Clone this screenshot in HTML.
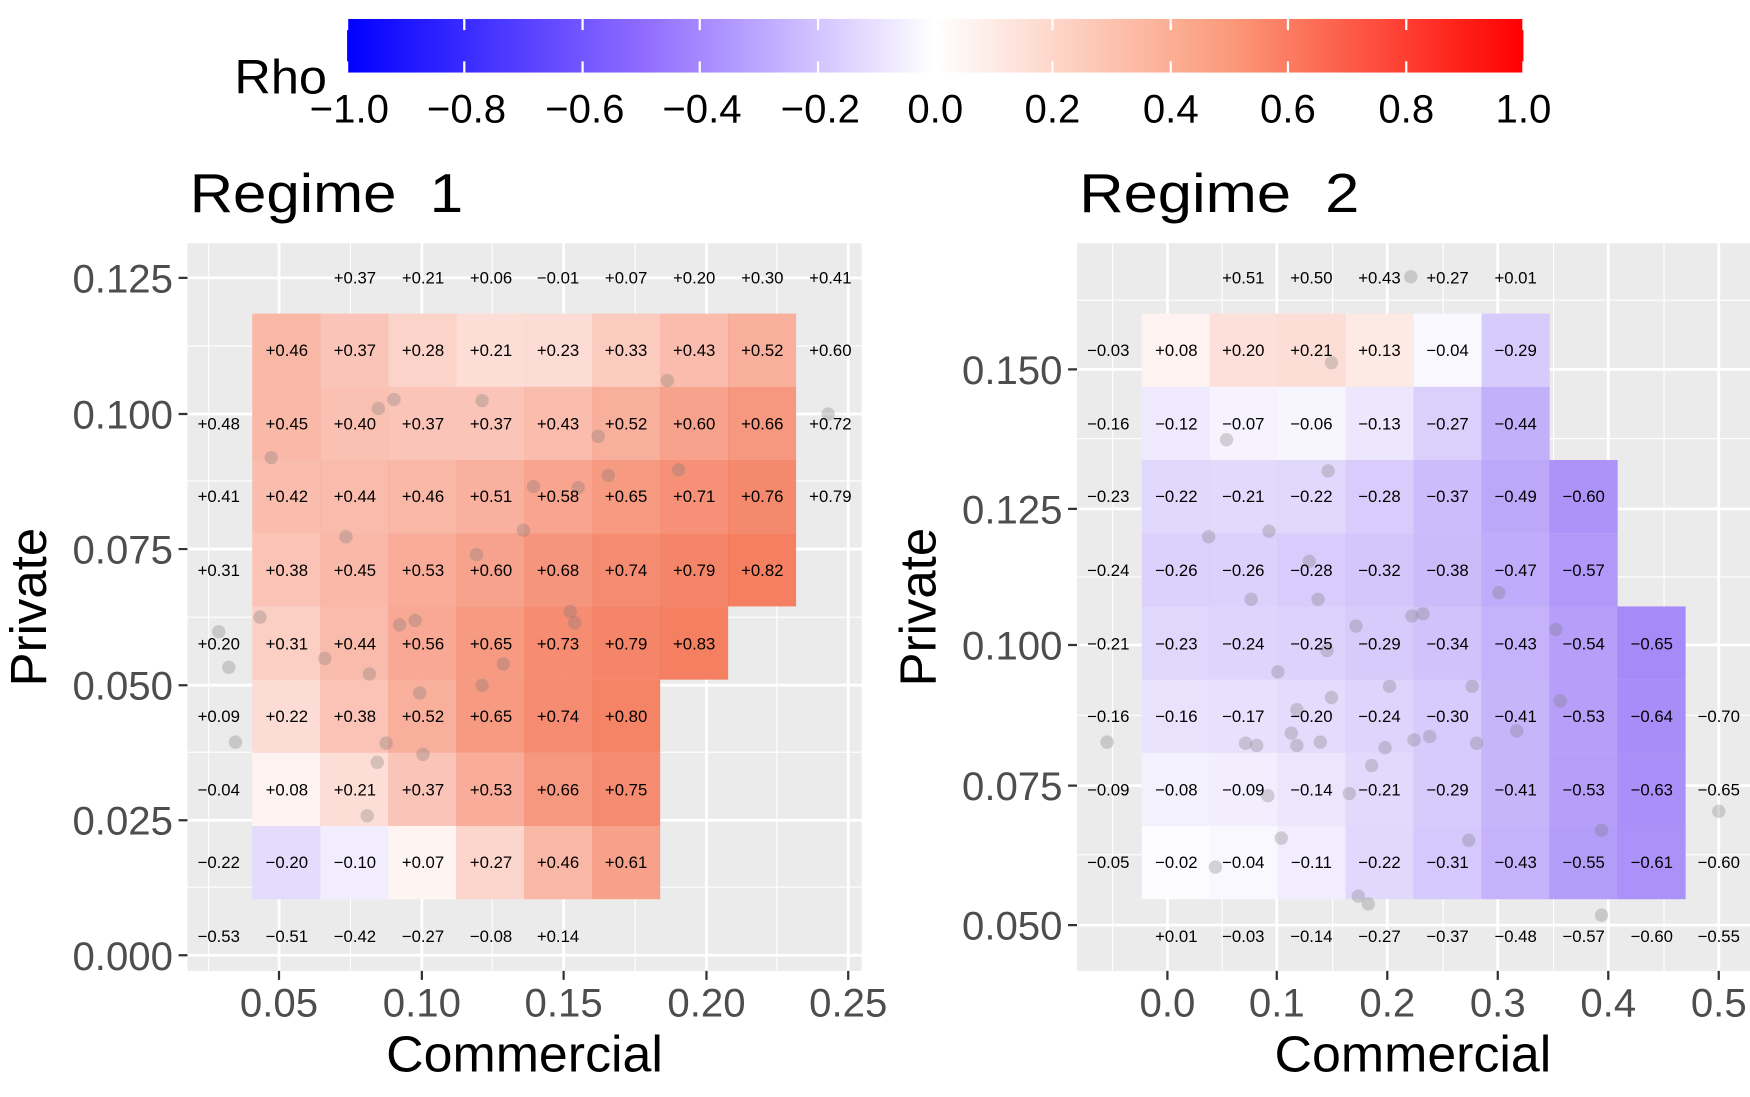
<!DOCTYPE html>
<html><head><meta charset="utf-8"><style>
html,body{margin:0;padding:0;background:#fff;}
svg{display:block;}
text{font-family:"Liberation Sans",Arial,sans-serif;}
.l{font-size:15px;fill:#000;text-anchor:middle;}
.t{font-size:36px;fill:#4d4d4d;}
</style></head><body>
<svg width="1750" height="1097" viewBox="0 0 1568 983" preserveAspectRatio="none" xmlns="http://www.w3.org/2000/svg">
<defs>
<linearGradient id="cb" x1="0" x2="1" y1="0" y2="0">
<stop offset="0" stop-color="#0000ff"/>
<stop offset="0.25" stop-color="#8f6bff"/>
<stop offset="0.5" stop-color="#ffffff"/>
<stop offset="0.75" stop-color="#fb9a7a"/>
<stop offset="1" stop-color="#ff0000"/>
</linearGradient>
</defs>
<rect x="311" y="17" width="1054" height="48" fill="url(#cb)"/>
<g stroke="#fff" stroke-width="2">
<path d="M311 17v10M416 17v10M522 17v10M627 17v10M733 17v10M838 17v10M943 17v10M1049 17v10M1154 17v10M1260 17v10M1365 17v10"/>
<path d="M311 55v10M416 55v10M522 55v10M627 55v10M733 55v10M838 55v10M943 55v10M1049 55v10M1154 55v10M1260 55v10M1365 55v10"/>
</g>
<text x="210" y="84" font-size="43" textLength="83" lengthAdjust="spacingAndGlyphs">Rho</text>
<g font-size="36" text-anchor="middle" fill="#000">
<text x="313" y="110">−1.0</text><text x="418" y="110">−0.8</text><text x="524" y="110">−0.6</text><text x="629" y="110">−0.4</text><text x="735" y="110">−0.2</text><text x="838" y="110">0.0</text><text x="943" y="110">0.2</text><text x="1049" y="110">0.4</text><text x="1154" y="110">0.6</text><text x="1260" y="110">0.8</text><text x="1365" y="110">1.0</text>
</g>

<text x="170" y="190" font-size="49" textLength="245" lengthAdjust="spacingAndGlyphs" xml:space="preserve">Regime  1</text>
<rect x="168" y="218" width="604" height="652" fill="#ebebeb"/>
<g stroke="#fff" stroke-width="1">
<path d="M187 218v652M314 218v652M441 218v652M569 218v652M696 218v652"/>
<path d="M168 310h604M168 431h604M168 553h604M168 674h604M168 795h604"/>
</g>
<g stroke="#fff" stroke-width="2.5">
<path d="M250 218v652M378 218v652M505 218v652M633 218v652M760 218v652"/>
<path d="M168 249h604M168 371h604M168 492h604M168 614h604M168 735h604M168 856h604"/>
</g>
<g fill="#fff">
<rect x="226" y="281" width="487.2" height="262.4"/>
<rect x="226" y="543.4" width="426.3" height="65.6"/>
<rect x="226" y="609" width="365.4" height="196.8"/>
</g>
<g fill="#ee3000">
<rect x="226" y="281" width="61" height="65.6" fill-opacity=".35"/><rect x="286.9" y="281" width="61" height="65.6" fill-opacity=".28"/><rect x="347.8" y="281" width="61" height="65.6" fill-opacity=".21"/><rect x="408.7" y="281" width="61" height="65.6" fill-opacity=".16"/><rect x="469.6" y="281" width="61" height="65.6" fill-opacity=".17"/><rect x="530.5" y="281" width="61" height="65.6" fill-opacity=".25"/><rect x="591.4" y="281" width="61" height="65.6" fill-opacity=".32"/><rect x="652.3" y="281" width="61" height="65.6" fill-opacity=".39"/>
<rect x="226" y="346.6" width="61" height="65.6" fill-opacity=".34"/><rect x="286.9" y="346.6" width="61" height="65.6" fill-opacity=".30"/><rect x="347.8" y="346.6" width="61" height="65.6" fill-opacity=".28"/><rect x="408.7" y="346.6" width="61" height="65.6" fill-opacity=".28"/><rect x="469.6" y="346.6" width="61" height="65.6" fill-opacity=".32"/><rect x="530.5" y="346.6" width="61" height="65.6" fill-opacity=".39"/><rect x="591.4" y="346.6" width="61" height="65.6" fill-opacity=".45"/><rect x="652.3" y="346.6" width="61" height="65.6" fill-opacity=".50"/>
<rect x="226" y="412.2" width="61" height="65.6" fill-opacity=".32"/><rect x="286.9" y="412.2" width="61" height="65.6" fill-opacity=".33"/><rect x="347.8" y="412.2" width="61" height="65.6" fill-opacity=".35"/><rect x="408.7" y="412.2" width="61" height="65.6" fill-opacity=".38"/><rect x="469.6" y="412.2" width="61" height="65.6" fill-opacity=".44"/><rect x="530.5" y="412.2" width="61" height="65.6" fill-opacity=".49"/><rect x="591.4" y="412.2" width="61" height="65.6" fill-opacity=".53"/><rect x="652.3" y="412.2" width="61" height="65.6" fill-opacity=".57"/>
<rect x="226" y="477.8" width="61" height="65.6" fill-opacity=".29"/><rect x="286.9" y="477.8" width="61" height="65.6" fill-opacity=".34"/><rect x="347.8" y="477.8" width="61" height="65.6" fill-opacity=".40"/><rect x="408.7" y="477.8" width="61" height="65.6" fill-opacity=".45"/><rect x="469.6" y="477.8" width="61" height="65.6" fill-opacity=".51"/><rect x="530.5" y="477.8" width="61" height="65.6" fill-opacity=".56"/><rect x="591.4" y="477.8" width="61" height="65.6" fill-opacity=".59"/><rect x="652.3" y="477.8" width="61" height="65.6" fill-opacity=".62"/>
<rect x="226" y="543.4" width="61" height="65.6" fill-opacity=".23"/><rect x="286.9" y="543.4" width="61" height="65.6" fill-opacity=".33"/><rect x="347.8" y="543.4" width="61" height="65.6" fill-opacity=".42"/><rect x="408.7" y="543.4" width="61" height="65.6" fill-opacity=".49"/><rect x="469.6" y="543.4" width="61" height="65.6" fill-opacity=".55"/><rect x="530.5" y="543.4" width="61" height="65.6" fill-opacity=".59"/><rect x="591.4" y="543.4" width="61" height="65.6" fill-opacity=".62"/>
<rect x="226" y="609" width="61" height="65.6" fill-opacity=".17"/><rect x="286.9" y="609" width="61" height="65.6" fill-opacity=".29"/><rect x="347.8" y="609" width="61" height="65.6" fill-opacity=".39"/><rect x="408.7" y="609" width="61" height="65.6" fill-opacity=".49"/><rect x="469.6" y="609" width="61" height="65.6" fill-opacity=".56"/><rect x="530.5" y="609" width="61" height="65.6" fill-opacity=".60"/>
<rect x="226" y="674.6" width="61" height="65.6" fill-opacity=".06"/><rect x="286.9" y="674.6" width="61" height="65.6" fill-opacity=".16"/><rect x="347.8" y="674.6" width="61" height="65.6" fill-opacity=".28"/><rect x="408.7" y="674.6" width="61" height="65.6" fill-opacity=".40"/><rect x="469.6" y="674.6" width="61" height="65.6" fill-opacity=".50"/><rect x="530.5" y="674.6" width="61" height="65.6" fill-opacity=".56"/>
<rect x="347.8" y="740.2" width="61" height="65.6" fill-opacity=".05"/><rect x="408.7" y="740.2" width="61" height="65.6" fill-opacity=".20"/><rect x="469.6" y="740.2" width="61" height="65.6" fill-opacity=".35"/><rect x="530.5" y="740.2" width="61" height="65.6" fill-opacity=".46"/>
</g>
<g fill="#4a10f0">
<rect x="226" y="740.2" width="61" height="65.6" fill-opacity=".15"/><rect x="286.9" y="740.2" width="61" height="65.6" fill-opacity=".075"/>
</g>
<g fill="#777" fill-opacity=".3">
<circle cx="243" cy="410" r="6"/><circle cx="339" cy="366" r="6"/><circle cx="353" cy="358" r="6"/><circle cx="432" cy="359" r="6"/><circle cx="598" cy="341" r="6"/><circle cx="536" cy="391" r="6"/><circle cx="545" cy="426" r="6"/><circle cx="608" cy="421" r="6"/><circle cx="478" cy="436" r="6"/><circle cx="518" cy="437" r="6"/><circle cx="310" cy="481" r="6"/><circle cx="469" cy="475" r="6"/><circle cx="427" cy="497" r="6"/><circle cx="233" cy="553" r="6"/><circle cx="196" cy="566" r="6"/><circle cx="205" cy="598" r="6"/><circle cx="291" cy="590" r="6"/><circle cx="358" cy="560" r="6"/><circle cx="372" cy="556" r="6"/><circle cx="331" cy="604" r="6"/><circle cx="432" cy="614" r="6"/><circle cx="376" cy="621" r="6"/><circle cx="511" cy="548" r="6"/><circle cx="515" cy="558" r="6"/><circle cx="451" cy="595" r="6"/><circle cx="346" cy="666" r="6"/><circle cx="211" cy="665" r="6"/><circle cx="338" cy="683" r="6"/><circle cx="379" cy="676" r="6"/><circle cx="329" cy="731" r="6"/><circle cx="742" cy="371" r="6"/>
</g>
<g class="l">
<text x="318" y="254">+0.37</text><text x="379" y="254">+0.21</text><text x="440" y="254">+0.06</text><text x="500" y="254">−0.01</text><text x="561" y="254">+0.07</text><text x="622" y="254">+0.20</text><text x="683" y="254">+0.30</text><text x="744" y="254">+0.41</text>
<text x="257" y="319">+0.46</text><text x="318" y="319">+0.37</text><text x="379" y="319">+0.28</text><text x="440" y="319">+0.21</text><text x="500" y="319">+0.23</text><text x="561" y="319">+0.33</text><text x="622" y="319">+0.43</text><text x="683" y="319">+0.52</text><text x="744" y="319">+0.60</text>
<text x="196" y="385">+0.48</text><text x="257" y="385">+0.45</text><text x="318" y="385">+0.40</text><text x="379" y="385">+0.37</text><text x="440" y="385">+0.37</text><text x="500" y="385">+0.43</text><text x="561" y="385">+0.52</text><text x="622" y="385">+0.60</text><text x="683" y="385">+0.66</text><text x="744" y="385">+0.72</text>
<text x="196" y="450">+0.41</text><text x="257" y="450">+0.42</text><text x="318" y="450">+0.44</text><text x="379" y="450">+0.46</text><text x="440" y="450">+0.51</text><text x="500" y="450">+0.58</text><text x="561" y="450">+0.65</text><text x="622" y="450">+0.71</text><text x="683" y="450">+0.76</text><text x="744" y="450">+0.79</text>
<text x="196" y="516">+0.31</text><text x="257" y="516">+0.38</text><text x="318" y="516">+0.45</text><text x="379" y="516">+0.53</text><text x="440" y="516">+0.60</text><text x="500" y="516">+0.68</text><text x="561" y="516">+0.74</text><text x="622" y="516">+0.79</text><text x="683" y="516">+0.82</text>
<text x="196" y="582">+0.20</text><text x="257" y="582">+0.31</text><text x="318" y="582">+0.44</text><text x="379" y="582">+0.56</text><text x="440" y="582">+0.65</text><text x="500" y="582">+0.73</text><text x="561" y="582">+0.79</text><text x="622" y="582">+0.83</text>
<text x="196" y="647">+0.09</text><text x="257" y="647">+0.22</text><text x="318" y="647">+0.38</text><text x="379" y="647">+0.52</text><text x="440" y="647">+0.65</text><text x="500" y="647">+0.74</text><text x="561" y="647">+0.80</text>
<text x="196" y="713">−0.04</text><text x="257" y="713">+0.08</text><text x="318" y="713">+0.21</text><text x="379" y="713">+0.37</text><text x="440" y="713">+0.53</text><text x="500" y="713">+0.66</text><text x="561" y="713">+0.75</text>
<text x="196" y="778">−0.22</text><text x="257" y="778">−0.20</text><text x="318" y="778">−0.10</text><text x="379" y="778">+0.07</text><text x="440" y="778">+0.27</text><text x="500" y="778">+0.46</text><text x="561" y="778">+0.61</text>
<text x="196" y="844">−0.53</text><text x="257" y="844">−0.51</text><text x="318" y="844">−0.42</text><text x="379" y="844">−0.27</text><text x="440" y="844">−0.08</text><text x="500" y="844">+0.14</text>
</g>
<g stroke="#333" stroke-width="2">
<path d="M160 249h8M160 371h8M160 492h8M160 614h8M160 735h8M160 856h8"/>
<path d="M250 870v8M378 870v8M505 870v8M633 870v8M760 870v8"/>
</g>
<g class="t" text-anchor="end">
<text x="155" y="262">0.125</text><text x="155" y="384">0.100</text><text x="155" y="505">0.075</text><text x="155" y="627">0.050</text><text x="155" y="748">0.025</text><text x="155" y="869">0.000</text>
</g>
<g class="t" text-anchor="middle">
<text x="250" y="911">0.05</text><text x="378" y="911">0.10</text><text x="505" y="911">0.15</text><text x="633" y="911">0.20</text><text x="760" y="911">0.25</text>
</g>
<text x="470" y="960" font-size="46" text-anchor="middle" textLength="248" lengthAdjust="spacingAndGlyphs">Commercial</text>
<text transform="translate(41,544) rotate(-90)" font-size="46" text-anchor="middle" textLength="142" lengthAdjust="spacingAndGlyphs">Private</text>

<text x="967" y="190" font-size="49" textLength="251" lengthAdjust="spacingAndGlyphs" xml:space="preserve">Regime  2</text>
<rect x="965" y="218" width="603" height="652" fill="#ebebeb"/>
<g stroke="#fff" stroke-width="1">
<path d="M997 218v652M1095 218v652M1194 218v652M1293 218v652M1392 218v652M1491 218v652"/>
<path d="M965 269h603M965 393h603M965 517h603M965 641h603M965 766h603"/>
</g>
<g stroke="#fff" stroke-width="2.5">
<path d="M1046 218v652M1144 218v652M1243 218v652M1342 218v652M1441 218v652M1540 218v652"/>
<path d="M965 331h603M965 456h603M965 578h603M965 704h603M965 829h603"/>
</g>
<g fill="#fff">
<rect x="1023" y="281" width="365.4" height="131.2"/>
<rect x="1023" y="412.2" width="426.3" height="131.2"/>
<rect x="1023" y="543.4" width="487.2" height="262.4"/>
</g>
<g fill="#ee3000">
<rect x="1023" y="281" width="61" height="65.6" fill-opacity=".06"/><rect x="1083.9" y="281" width="61" height="65.6" fill-opacity=".15"/><rect x="1144.8" y="281" width="61" height="65.6" fill-opacity=".16"/><rect x="1205.7" y="281" width="61" height="65.6" fill-opacity=".10"/>
</g>
<g fill="#4a10f0">
<rect x="1266.6" y="281" width="61" height="65.6" fill-opacity=".03"/><rect x="1327.5" y="281" width="61" height="65.6" fill-opacity=".22"/>
<rect x="1023" y="346.6" width="61" height="65.6" fill-opacity=".09"/><rect x="1083.9" y="346.6" width="61" height="65.6" fill-opacity=".05"/><rect x="1144.8" y="346.6" width="61" height="65.6" fill-opacity=".045"/><rect x="1205.7" y="346.6" width="61" height="65.6" fill-opacity=".10"/><rect x="1266.6" y="346.6" width="61" height="65.6" fill-opacity=".20"/><rect x="1327.5" y="346.6" width="61" height="65.6" fill-opacity=".33"/>
<rect x="1023" y="412.2" width="61" height="65.6" fill-opacity=".165"/><rect x="1083.9" y="412.2" width="61" height="65.6" fill-opacity=".16"/><rect x="1144.8" y="412.2" width="61" height="65.6" fill-opacity=".165"/><rect x="1205.7" y="412.2" width="61" height="65.6" fill-opacity=".21"/><rect x="1266.6" y="412.2" width="61" height="65.6" fill-opacity=".28"/><rect x="1327.5" y="412.2" width="61" height="65.6" fill-opacity=".37"/><rect x="1388.4" y="412.2" width="61" height="65.6" fill-opacity=".45"/>
<rect x="1023" y="477.8" width="61" height="65.6" fill-opacity=".195"/><rect x="1083.9" y="477.8" width="61" height="65.6" fill-opacity=".195"/><rect x="1144.8" y="477.8" width="61" height="65.6" fill-opacity=".21"/><rect x="1205.7" y="477.8" width="61" height="65.6" fill-opacity=".24"/><rect x="1266.6" y="477.8" width="61" height="65.6" fill-opacity=".285"/><rect x="1327.5" y="477.8" width="61" height="65.6" fill-opacity=".35"/><rect x="1388.4" y="477.8" width="61" height="65.6" fill-opacity=".43"/>
<rect x="1023" y="543.4" width="61" height="65.6" fill-opacity=".17"/><rect x="1083.9" y="543.4" width="61" height="65.6" fill-opacity=".18"/><rect x="1144.8" y="543.4" width="61" height="65.6" fill-opacity=".19"/><rect x="1205.7" y="543.4" width="61" height="65.6" fill-opacity=".22"/><rect x="1266.6" y="543.4" width="61" height="65.6" fill-opacity=".255"/><rect x="1327.5" y="543.4" width="61" height="65.6" fill-opacity=".32"/><rect x="1388.4" y="543.4" width="61" height="65.6" fill-opacity=".405"/><rect x="1449.3" y="543.4" width="61" height="65.6" fill-opacity=".49"/>
<rect x="1023" y="609" width="61" height="65.6" fill-opacity=".12"/><rect x="1083.9" y="609" width="61" height="65.6" fill-opacity=".13"/><rect x="1144.8" y="609" width="61" height="65.6" fill-opacity=".15"/><rect x="1205.7" y="609" width="61" height="65.6" fill-opacity=".18"/><rect x="1266.6" y="609" width="61" height="65.6" fill-opacity=".225"/><rect x="1327.5" y="609" width="61" height="65.6" fill-opacity=".31"/><rect x="1388.4" y="609" width="61" height="65.6" fill-opacity=".40"/><rect x="1449.3" y="609" width="61" height="65.6" fill-opacity=".48"/>
<rect x="1023" y="674.6" width="61" height="65.6" fill-opacity=".06"/><rect x="1083.9" y="674.6" width="61" height="65.6" fill-opacity=".07"/><rect x="1144.8" y="674.6" width="61" height="65.6" fill-opacity=".105"/><rect x="1205.7" y="674.6" width="61" height="65.6" fill-opacity=".16"/><rect x="1266.6" y="674.6" width="61" height="65.6" fill-opacity=".22"/><rect x="1327.5" y="674.6" width="61" height="65.6" fill-opacity=".31"/><rect x="1388.4" y="674.6" width="61" height="65.6" fill-opacity=".40"/><rect x="1449.3" y="674.6" width="61" height="65.6" fill-opacity=".47"/>
<rect x="1023" y="740.2" width="61" height="65.6" fill-opacity=".015"/><rect x="1083.9" y="740.2" width="61" height="65.6" fill-opacity=".03"/><rect x="1144.8" y="740.2" width="61" height="65.6" fill-opacity=".08"/><rect x="1205.7" y="740.2" width="61" height="65.6" fill-opacity=".165"/><rect x="1266.6" y="740.2" width="61" height="65.6" fill-opacity=".23"/><rect x="1327.5" y="740.2" width="61" height="65.6" fill-opacity=".32"/><rect x="1388.4" y="740.2" width="61" height="65.6" fill-opacity=".41"/><rect x="1449.3" y="740.2" width="61" height="65.6" fill-opacity=".46"/>
</g>
<g fill="#777" fill-opacity=".3">
<circle cx="1264" cy="248" r="6"/><circle cx="1193" cy="325" r="6"/><circle cx="1099" cy="394" r="6"/><circle cx="1190" cy="422" r="6"/><circle cx="1083" cy="481" r="6"/><circle cx="1137" cy="476" r="6"/><circle cx="1173" cy="503" r="6"/><circle cx="1121" cy="537" r="6"/><circle cx="1181" cy="537" r="6"/><circle cx="1343" cy="531" r="6"/><circle cx="1215" cy="561" r="6"/><circle cx="1265" cy="552" r="6"/><circle cx="1275" cy="550" r="6"/><circle cx="1394" cy="564" r="6"/><circle cx="1145" cy="602" r="6"/><circle cx="1189" cy="583" r="6"/><circle cx="1245" cy="615" r="6"/><circle cx="1319" cy="615" r="6"/><circle cx="1193" cy="625" r="6"/><circle cx="1162" cy="636" r="6"/><circle cx="1398" cy="628" r="6"/><circle cx="1359" cy="655" r="6"/><circle cx="1157" cy="657" r="6"/><circle cx="1116" cy="666" r="6"/><circle cx="1126" cy="668" r="6"/><circle cx="1162" cy="668" r="6"/><circle cx="1183" cy="665" r="6"/><circle cx="1267" cy="663" r="6"/><circle cx="1281" cy="660" r="6"/><circle cx="1323" cy="666" r="6"/><circle cx="992" cy="665" r="6"/><circle cx="1241" cy="670" r="6"/><circle cx="1229" cy="686" r="6"/><circle cx="1209" cy="711" r="6"/><circle cx="1136" cy="713" r="6"/><circle cx="1148" cy="751" r="6"/><circle cx="1316" cy="753" r="6"/><circle cx="1435" cy="744" r="6"/><circle cx="1540" cy="727" r="6"/><circle cx="1089" cy="777" r="6"/><circle cx="1217" cy="803" r="6"/><circle cx="1226" cy="810" r="6"/><circle cx="1435" cy="820" r="6"/>
</g>
<g class="l">
<text x="1114" y="254">+0.51</text><text x="1175" y="254">+0.50</text><text x="1236" y="254">+0.43</text><text x="1297" y="254">+0.27</text><text x="1358" y="254">+0.01</text>
<text x="993" y="319">−0.03</text><text x="1054" y="319">+0.08</text><text x="1114" y="319">+0.20</text><text x="1175" y="319">+0.21</text><text x="1236" y="319">+0.13</text><text x="1297" y="319">−0.04</text><text x="1358" y="319">−0.29</text>
<text x="993" y="385">−0.16</text><text x="1054" y="385">−0.12</text><text x="1114" y="385">−0.07</text><text x="1175" y="385">−0.06</text><text x="1236" y="385">−0.13</text><text x="1297" y="385">−0.27</text><text x="1358" y="385">−0.44</text>
<text x="993" y="450">−0.23</text><text x="1054" y="450">−0.22</text><text x="1114" y="450">−0.21</text><text x="1175" y="450">−0.22</text><text x="1236" y="450">−0.28</text><text x="1297" y="450">−0.37</text><text x="1358" y="450">−0.49</text><text x="1419" y="450">−0.60</text>
<text x="993" y="516">−0.24</text><text x="1054" y="516">−0.26</text><text x="1114" y="516">−0.26</text><text x="1175" y="516">−0.28</text><text x="1236" y="516">−0.32</text><text x="1297" y="516">−0.38</text><text x="1358" y="516">−0.47</text><text x="1419" y="516">−0.57</text>
<text x="993" y="582">−0.21</text><text x="1054" y="582">−0.23</text><text x="1114" y="582">−0.24</text><text x="1175" y="582">−0.25</text><text x="1236" y="582">−0.29</text><text x="1297" y="582">−0.34</text><text x="1358" y="582">−0.43</text><text x="1419" y="582">−0.54</text><text x="1480" y="582">−0.65</text>
<text x="993" y="647">−0.16</text><text x="1054" y="647">−0.16</text><text x="1114" y="647">−0.17</text><text x="1175" y="647">−0.20</text><text x="1236" y="647">−0.24</text><text x="1297" y="647">−0.30</text><text x="1358" y="647">−0.41</text><text x="1419" y="647">−0.53</text><text x="1480" y="647">−0.64</text><text x="1540" y="647">−0.70</text>
<text x="993" y="713">−0.09</text><text x="1054" y="713">−0.08</text><text x="1114" y="713">−0.09</text><text x="1175" y="713">−0.14</text><text x="1236" y="713">−0.21</text><text x="1297" y="713">−0.29</text><text x="1358" y="713">−0.41</text><text x="1419" y="713">−0.53</text><text x="1480" y="713">−0.63</text><text x="1540" y="713">−0.65</text>
<text x="993" y="778">−0.05</text><text x="1054" y="778">−0.02</text><text x="1114" y="778">−0.04</text><text x="1175" y="778">−0.11</text><text x="1236" y="778">−0.22</text><text x="1297" y="778">−0.31</text><text x="1358" y="778">−0.43</text><text x="1419" y="778">−0.55</text><text x="1480" y="778">−0.61</text><text x="1540" y="778">−0.60</text>
<text x="1054" y="844">+0.01</text><text x="1114" y="844">−0.03</text><text x="1175" y="844">−0.14</text><text x="1236" y="844">−0.27</text><text x="1297" y="844">−0.37</text><text x="1358" y="844">−0.48</text><text x="1419" y="844">−0.57</text><text x="1480" y="844">−0.60</text><text x="1540" y="844">−0.55</text>
</g>
<g stroke="#333" stroke-width="2">
<path d="M957 331h8M957 456h8M957 578h8M957 704h8M957 829h8"/>
<path d="M1046 870v8M1144 870v8M1243 870v8M1342 870v8M1441 870v8M1540 870v8"/>
</g>
<g class="t" text-anchor="end">
<text x="952" y="344">0.150</text><text x="952" y="469">0.125</text><text x="952" y="591">0.100</text><text x="952" y="717">0.075</text><text x="952" y="842">0.050</text>
</g>
<g class="t" text-anchor="middle">
<text x="1046" y="911">0.0</text><text x="1144" y="911">0.1</text><text x="1243" y="911">0.2</text><text x="1342" y="911">0.3</text><text x="1441" y="911">0.4</text><text x="1540" y="911">0.5</text>
</g>
<text x="1266" y="960" font-size="46" text-anchor="middle" textLength="248" lengthAdjust="spacingAndGlyphs">Commercial</text>
<text transform="translate(838,544) rotate(-90)" font-size="46" text-anchor="middle" textLength="142" lengthAdjust="spacingAndGlyphs">Private</text>
</svg>
</body></html>
